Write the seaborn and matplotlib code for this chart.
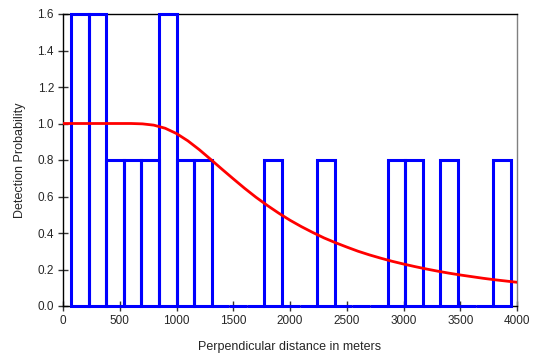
import numpy as np
import pandas as pd
import matplotlib
matplotlib.use("Agg")
import matplotlib.pyplot as plt
import seaborn as sns

# Histogram bins (left edges, meters) and scaled heights
bin_left = [70, 225, 380, 535, 690, 845, 1000, 1155, 1310, 1465, 1620, 1775, 1930,
            2085, 2240, 2395, 2550, 2705, 2860, 3015, 3170, 3325, 3480, 3635, 3790]
bin_width = 155
bar_height = [1.6, 1.6, 0.8, 0.8, 0.8, 1.6, 0.8, 0.8, 0.0, 0.0, 0.0, 0.8, 0.0,
              0.0, 0.8, 0.0, 0.0, 0.0, 0.8, 0.8, 0.0, 0.8, 0.0, 0.0, 0.8]

# Fitted detection function
curve_x = [0, 100, 200, 300, 400, 500, 600, 700, 800, 900, 1000, 1100, 1200, 1300,
           1400, 1500, 1600, 1700, 1800, 1900, 2000, 2100, 2200, 2300, 2400, 2500,
           2600, 2700, 2800, 2900, 3000, 3100, 3200, 3300, 3400, 3500, 3600, 3700,
           3800, 3900, 4000]
curve_y = [1.0, 1.0, 1.0, 1.0, 1.0, 1.0, 1.0, 0.998, 0.991, 0.974, 0.945, 0.905,
           0.857, 0.804, 0.750, 0.697, 0.645, 0.596, 0.551, 0.509, 0.470, 0.435,
           0.403, 0.373, 0.347, 0.323, 0.300, 0.280, 0.262, 0.245, 0.230, 0.216,
           0.203, 0.191, 0.180, 0.170, 0.161, 0.152, 0.144, 0.137, 0.130]

x_ticks = [0, 500, 1000, 1500, 2000, 2500, 3000, 3500, 4000]
y_ticks = [0.0, 0.2, 0.4, 0.6, 0.8, 1.0, 1.2, 1.4, 1.6]

sns.set_style("white")
plt.rcParams['font.family'] = ['Liberation Sans', 'DejaVu Sans']

fig = plt.figure(figsize=(5.35, 3.63), dpi=100)
ax = fig.add_axes([63/535, 1 - 306/363, (517-63)/535, (306-14)/363])

edges = list(bin_left) + [bin_left[-1] + bin_width]
hist_df = pd.DataFrame({"x": [b + bin_width / 2 for b in bin_left], "w": bar_height})
sns.histplot(data=hist_df, x="x", weights="w", bins=edges, element="bars",
             fill=False, color="#0000FF", linewidth=2.2, ax=ax)
for p in ax.patches:
    p.set_edgecolor("#0000FF")
    p.set_clip_on(False)
    p.set_zorder(2)

curve_df = pd.DataFrame({"x": curve_x, "y": curve_y})
sns.lineplot(data=curve_df, x="x", y="y", color="#FF0000", linewidth=2.0, ax=ax, zorder=3)

ax.set_xlim(0, 4000)
ax.set_ylim(0, 1.6)
ax.set_xticks(x_ticks)
ax.set_xticklabels([str(t) for t in x_ticks])
ax.set_yticks(y_ticks)
ax.set_yticklabels([f"{t:.1f}" for t in y_ticks])
ax.tick_params(axis="both", direction="inout", length=7, width=1, color="#333333",
               labelsize=8.5, pad=3, bottom=True, left=True)
for side in ["top", "right", "left", "bottom"]:
    ax.spines[side].set_visible(True)
    ax.spines[side].set_linewidth(1.0)
    ax.spines[side].set_zorder(1)
ax.spines["left"].set_color("black")
ax.spines["bottom"].set_color("black")
ax.spines["top"].set_color("black")
ax.spines["right"].set_color("#808080")

ax.set_xlabel("Perpendicular distance in meters", fontsize=9, labelpad=10)
ax.set_ylabel("Detection Probability", fontsize=9, labelpad=8)

fig.savefig("out.png", dpi=100)
